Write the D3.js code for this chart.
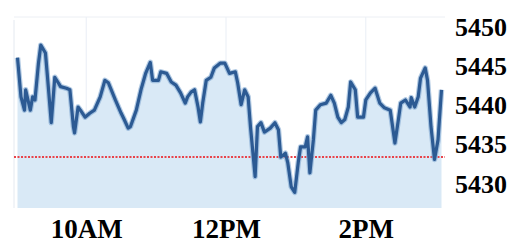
<!DOCTYPE html>
<html>
<head>
<meta charset="utf-8">
<script src="https://cdn.jsdelivr.net/npm/d3@7"></script>
<style>
  body { margin: 0; background: #fff; }
  svg { display: block; }
  svg text.lbl { font-family: 'Liberation Serif', 'DejaVu Serif', serif; font-weight: 700; fill: #000; }
</style>
</head>
<body>
<svg width="517" height="244"></svg>
<script>
  // intraday samples
  const times = [
    '9:01','9:04','9:07','9:08','9:12','9:14','9:16','9:19','9:21','9:25',
    '9:27','9:30','9:33','9:36','9:38','9:43','9:46','9:49','9:50','9:53',
    '9:55','9:59','10:03','10:07','10:12','10:16','10:19','10:25','10:30','10:32',
    '10:36','10:38','10:43','10:47','10:51','10:55','10:57','11:02','11:04','11:09',
    '11:13','11:17','11:21','11:25','11:27','11:30','11:33','11:36','11:38','11:40',
    '11:43','11:47','11:50','11:55','11:59','12:03','12:08','12:10','12:13','12:16',
    '12:19','12:21','12:25','12:27','12:30','12:33','12:38','12:42','12:45','12:47',
    '12:51','12:53','12:56','12:59','13:02','13:04','13:08','13:10','13:12','13:15',
    '13:17','13:21','13:26','13:30','13:33','13:36','13:39','13:42','13:45','13:47',
    '13:51','13:53','13:58','14:00','14:04','14:08','14:12','14:16','14:21','14:23',
    '14:25','14:28','14:30','14:34','14:38','14:39','14:42','14:45','14:47','14:51',
    '14:53','14:56','14:59','15:02','15:05'
  ];
  const prices = [
    5446.1,5441.1,5439.4,5442.0,5439.4,5441.1,5440.7,5445.4,5447.7,5446.7,
    5443.2,5437.8,5443.6,5442.9,5442.4,5442.2,5442.0,5437.3,5436.5,5439.8,
    5439.4,5438.5,5439.0,5439.4,5441.1,5443.2,5442.9,5440.7,5439.0,5438.4,
    5437.1,5437.3,5439.4,5442.0,5444.1,5445.5,5443.2,5443.2,5444.3,5444.1,
    5443.0,5442.6,5441.6,5440.3,5441.1,5441.7,5442.0,5439.8,5437.9,5440.3,
    5443.2,5443.6,5444.8,5445.4,5445.4,5444.1,5444.3,5442.9,5440.1,5442.0,
    5441.1,5437.3,5430.9,5437.3,5437.8,5436.6,5437.1,5437.8,5436.9,5433.4,
    5433.9,5432.7,5429.6,5428.9,5432.7,5434.7,5434.7,5436.0,5431.4,5435.6,
    5439.4,5440.1,5440.3,5441.3,5440.3,5438.5,5437.8,5438.2,5439.8,5443.0,
    5442.0,5438.5,5438.5,5440.7,5441.6,5442.2,5440.3,5439.7,5439.4,5437.3,
    5435.2,5438.2,5440.3,5440.7,5439.8,5441.0,5439.8,5441.1,5443.5,5444.8,
    5443.2,5437.3,5433.1,5435.6,5442.0
  ];
  const timeTicks = ['10:00', '12:00', '14:00'];
  const priceTicks = [5430, 5435, 5440, 5445, 5450];
  const prevClose = 5433.4;

  const svg = d3.select('svg');
  const width = +svg.attr('width');
  const height = +svg.attr('height');
  const margin = { top: 17, right: 72, bottom: 36, left: 14 };
  const innerWidth = width - margin.left - margin.right;
  const innerHeight = height - margin.top - margin.bottom;

  const parseTime = d3.timeParse('%H:%M');
  const data = times.map((t, i) => ({ t: parseTime(t), v: prices[i] }));

  const xScale = d3.scaleTime()
    .domain([parseTime('8:58'), parseTime('15:08')])
    .range([0, innerWidth]);

  const yScale = d3.scaleLinear()
    .domain([5426.9, 5451.3])
    .range([innerHeight, 0]);

  const g = svg.append('g')
    .attr('transform', `translate(${margin.left},${margin.top})`);

  // faint grid
  const tickDates = timeTicks.map(parseTime);
  g.selectAll('.vgrid').data(tickDates)
    .enter().append('line')
      .attr('x1', d => xScale(d)).attr('x2', d => xScale(d))
      .attr('y1', 0).attr('y2', innerHeight)
      .attr('stroke', '#e9eef5');
  g.append('line')
    .attr('x1', 0).attr('x2', innerWidth)
    .attr('y1', 0).attr('y2', 0)
    .attr('stroke', '#eceff4');
  g.append('line')
    .attr('x1', 0).attr('x2', 0)
    .attr('y1', 3).attr('y2', innerHeight)
    .attr('stroke', '#e4e9f0');

  // area under price
  const area = d3.area()
    .x(d => xScale(d.t))
    .y0(innerHeight)
    .y1(d => yScale(d.v));
  g.append('path').datum(data)
    .attr('fill', '#d9e9f6')
    .attr('d', area);

  // previous close marker
  g.append('line')
    .attr('x1', 0).attr('x2', innerWidth)
    .attr('y1', yScale(prevClose)).attr('y2', yScale(prevClose))
    .attr('stroke', '#e8434a')
    .attr('stroke-width', 2)
    .attr('stroke-dasharray', '2,1.5');

  const line = d3.line()
    .x(d => xScale(d.t))
    .y(d => yScale(d.v));
  g.append('path').datum(data)
    .attr('fill', 'none')
    .attr('stroke', '#7fa6d1')
    .attr('stroke-width', 5.5)
    .attr('stroke-linejoin', 'round')
    .attr('opacity', 0.6)
    .attr('d', line);
  g.append('path').datum(data)
    .attr('fill', 'none')
    .attr('stroke', '#2c5a93')
    .attr('stroke-width', 3.2)
    .attr('stroke-linejoin', 'round')
    .attr('d', line);

  // axes
  const yAxisG = g.append('g')
    .attr('transform', `translate(${innerWidth},0)`)
    .call(d3.axisRight(yScale).tickValues(priceTicks)
      .tickFormat(d3.format('d')).tickSize(0).tickPadding(10));
  yAxisG.select('.domain').remove();
  yAxisG.selectAll('text').attr('class', 'lbl').style('font-size', '26px');

  const xAxisG = g.append('g')
    .attr('transform', `translate(0,${innerHeight})`)
    .call(d3.axisBottom(xScale).tickValues(tickDates)
      .tickFormat(d3.timeFormat('%-I%p')).tickSize(0).tickPadding(11));
  xAxisG.select('.domain').remove();
  xAxisG.selectAll('text').attr('class', 'lbl').style('font-size', '27px');
</script>
</body>
</html>
